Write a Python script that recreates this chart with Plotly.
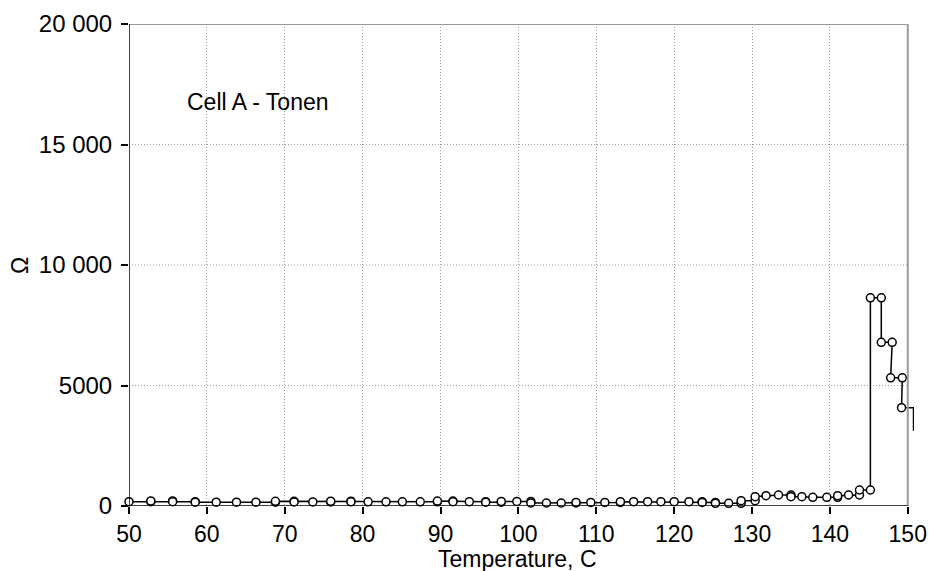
import plotly.graph_objects as go

# Staircase measurement points (temperature in C, resistance in Ohm)
temp = [50.0, 52.8, 52.8, 55.6, 55.6, 58.5, 58.5, 61.2, 63.8, 66.3, 68.8, 68.8,
        71.2, 71.2, 73.6, 75.9, 75.9, 78.5, 78.5, 80.7, 83.0, 85.1, 87.4, 89.6,
        89.6, 91.6, 91.6, 93.7, 95.8, 95.8, 97.8, 97.8, 99.8, 101.6, 101.6, 103.6,
        105.5, 107.4, 107.4, 109.3, 111.1, 113.1, 113.1, 114.8, 116.6, 118.3, 120.0,
        121.9, 123.6, 123.6, 125.3, 125.3, 127.0, 128.6, 128.6, 130.4, 130.4, 131.8,
        133.4, 135.0, 135.0, 136.4, 137.8, 139.6, 141.0, 141.0, 142.4, 143.8, 143.8,
        145.2, 145.2, 146.6, 146.6, 148.0, 147.8, 149.3, 149.2]
ohm = [180, 180, 210, 210, 180, 180, 160, 160, 160, 160, 160, 195,
       195, 170, 170, 170, 200, 200, 175, 175, 175, 175, 175, 175,
       205, 205, 180, 180, 180, 155, 155, 190, 190, 190, 125, 125,
       125, 125, 150, 150, 150, 150, 180, 180, 180, 180, 180,
       180, 180, 150, 150, 110, 110, 110, 220, 220, 387, 428,
       456, 456, 387, 387, 360, 360, 360, 428, 456, 456, 664,
       664, 8640, 8640, 6790, 6790, 5320, 5320, 4080]

# Trailing line segment (no markers)
tail_temp = [149.2, 150.74, 150.74]
tail_ohm = [4080, 4080, 3120]

x_ticks = [50, 60, 70, 80, 90, 100, 110, 120, 130, 140, 150]
y_ticks = [0, 5000, 10000, 15000, 20000]
y_tick_labels = ["0", "5000", "10 000", "15 000", "20 000"]

FONT = "Liberation Sans, Arial, sans-serif"
GRID = "#a0a0a0"
GRID_DASH = "1px,2px"

fig = go.Figure()
fig.add_trace(go.Scatter(x=tail_temp, y=tail_ohm, mode="lines",
                         line=dict(color="black", width=1.5), showlegend=False))
fig.add_trace(go.Scatter(x=temp, y=ohm, mode="lines+markers",
                         line=dict(color="black", width=1.5),
                         marker=dict(symbol="circle", size=8, color="white",
                                     line=dict(color="black", width=1.5)),
                         cliponaxis=False, showlegend=False))

shapes = []
for yv in y_ticks[1:-1]:
    shapes.append(dict(type="line", xref="x", yref="y", x0=50, x1=150, y0=yv, y1=yv,
                       line=dict(color=GRID, width=1, dash=GRID_DASH), layer="below"))
# frame
shapes.append(dict(type="line", xref="x", yref="y", x0=50, x1=150, y0=20000, y1=20000,
                   line=dict(color="#9a9a9a", width=2)))
shapes.append(dict(type="line", xref="x", yref="y", x0=150, x1=150, y0=0, y1=20000,
                   line=dict(color="#9a9a9a", width=2)))
shapes.append(dict(type="line", xref="x", yref="y", x0=50, x1=150, y0=0, y1=0,
                   line=dict(color="black", width=1.5)))
shapes.append(dict(type="line", xref="x", yref="y", x0=50, x1=50, y0=0, y1=20000,
                   line=dict(color="black", width=1.5)))

fig.update_layout(
    width=929, height=571,
    margin=dict(l=129, r=15, t=24, b=65),
    paper_bgcolor="white", plot_bgcolor="white",
    font=dict(family=FONT, size=24, color="black"),
    shapes=shapes,
    xaxis=dict(range=[50, 150.8], tickvals=x_ticks, ticks="outside", ticklen=7,
               tickwidth=1.5, tickcolor="black", showline=False, zeroline=False,
               showgrid=True, gridcolor=GRID, griddash=GRID_DASH, gridwidth=1,
               tickfont=dict(size=23), automargin=False),
    yaxis=dict(range=[0, 20000], tickvals=y_ticks, ticktext=y_tick_labels,
               ticks="outside", ticklen=7, tickwidth=1.5, tickcolor="black",
               showline=False, zeroline=False, showgrid=False,
               tickfont=dict(size=24), automargin=False, ticklabelstandoff=4),
    annotations=[
        dict(text="Cell A - Tonen", xref="x", yref="y", x=57.2, y=16760,
             xanchor="left", yanchor="middle", showarrow=False,
             font=dict(size=23)),
        dict(text="Ω", xref="paper", yref="paper", x=-0.139, y=0.5, textangle=-90,
             xanchor="center", yanchor="middle", showarrow=False,
             font=dict(size=23)),
        dict(text="Temperature, C", xref="paper", yref="paper", x=0.4954, y=-0.1105,
             xanchor="center", yanchor="middle", showarrow=False,
             font=dict(size=23)),
    ],
)

fig.write_html("out.html", config={"displayModeBar": False},
               post_script="document.body.style.margin='0';document.body.style.overflow='hidden';")
